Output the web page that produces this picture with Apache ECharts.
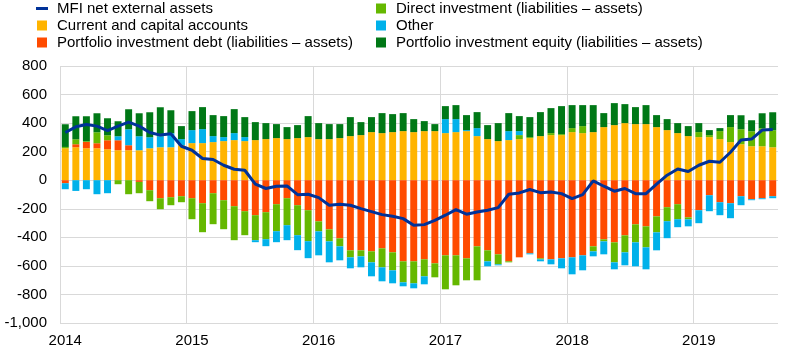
<!DOCTYPE html>
<html>
<head>
<meta charset="utf-8">
<script src="https://cdn.jsdelivr.net/npm/echarts@6/dist/echarts.min.js"></script>
<style>
html,body{margin:0;padding:0;background:#fff;}
#chart{width:794px;height:356px;}
</style>
</head>
<body>
<div id="chart"></div>
<script>
var months = [
 '2014-01','2014-02','2014-03','2014-04','2014-05','2014-06','2014-07','2014-08','2014-09','2014-10','2014-11','2014-12',
 '2015-01','2015-02','2015-03','2015-04','2015-05','2015-06','2015-07','2015-08','2015-09','2015-10','2015-11','2015-12',
 '2016-01','2016-02','2016-03','2016-04','2016-05','2016-06','2016-07','2016-08','2016-09','2016-10','2016-11','2016-12',
 '2017-01','2017-02','2017-03','2017-04','2017-05','2017-06','2017-07','2017-08','2017-09','2017-10','2017-11','2017-12',
 '2018-01','2018-02','2018-03','2018-04','2018-05','2018-06','2018-07','2018-08','2018-09','2018-10','2018-11','2018-12',
 '2019-01','2019-02','2019-03','2019-04','2019-05','2019-06','2019-07','2019-08'
];

var seriesNames = [
 'MFI net external assets',
 'Current and capital accounts',
 'Portfolio investment debt (liabilities \u2013 assets)',
 'Direct investment (liabilities \u2013 assets)',
 'Other',
 'Portfolio investment equity (liabilities \u2013 assets)'
];

var mfiNet = [334,374,390,379,348,379,407,379,334,316,325,238,
 210,152,145,105,77,70,-28,-58,-42,-40,-101,-98,
 -122,-175,-168,-175,-199,-220,-241,-252,-269,-316,-311,-281,
 -245,-206,-238,-222,-210,-192,-98,-89,-65,-87,-82,-94,
 -129,-101,-5,-42,-77,-58,-94,-94,-28,35,79,61,
 105,133,126,196,281,288,351,355];

var currentCapital = [224,231,224,224,217,210,210,210,224,231,231,245,
 260,260,267,274,281,274,281,288,295,288,295,302,
 288,288,295,309,316,337,330,337,344,337,344,344,
 330,337,344,309,288,274,281,288,295,309,316,316,
 337,330,337,372,386,400,393,393,372,351,330,309,
 302,302,288,267,252,238,238,231];

var portfolioDebt = [-21,21,44,35,63,70,35,-12,-70,-126,-119,-112,
 -126,-161,-91,-140,-182,-217,-245,-224,-168,-126,-175,-210,
 -288,-344,-407,-491,-491,-498,-477,-505,-568,-568,-554,-582,
 -526,-526,-547,-463,-491,-519,-568,-540,-512,-547,-554,-547,
 -540,-526,-463,-414,-435,-386,-309,-323,-253,-189,-168,-260,
 -210,-105,-154,-161,-112,-133,-126,-112];

var directInv = [9,35,5,77,35,-28,-98,-79,-77,-77,-56,-42,
 -147,-203,-217,-203,-238,-168,-175,-189,-189,-189,-210,-217,
 -70,-84,-56,-49,-42,-77,-133,-126,-147,-154,-119,-98,
 -238,-210,-154,-238,-77,-70,-7,28,7,-7,14,7,
 28,49,-35,-14,-140,-119,-126,-147,-112,-98,-105,-14,
 35,14,56,105,105,105,126,119];

var otherInv = [-42,-75,-63,-98,-91,28,112,98,77,77,98,43,
 91,98,42,28,49,28,-14,-49,-77,-105,-105,-119,
 -168,-147,-98,-77,-77,-98,-98,-91,-28,-35,-56,0,
 98,91,7,56,-35,-7,63,28,-7,-14,-35,-70,
 -119,-105,-35,-91,-49,-91,-168,-154,-126,-119,-56,-49,
 -91,-112,-91,-105,-63,-7,-7,-14];

var portfolioEquity = [159,161,175,133,119,105,140,161,175,203,161,91,
 133,154,147,147,168,140,126,112,98,84,91,147,
 112,105,98,133,91,105,140,126,126,91,70,49,
 91,98,105,112,98,126,126,105,140,168,175,196,
 161,147,189,98,154,133,119,133,84,77,70,70,
 63,35,21,84,98,77,105,126];

var yTicks = {min: -1000, max: 800, interval: 200};

var colors = ['#003299','#FFB400','#FF4B00','#65B800','#00B1EA','#007816'];
var fontFam = '"Liberation Sans", Arial, sans-serif';
var sq = 'path://M0,0L10,0L10,10L0,10Z';
var dash = 'path://M0,0L12,0L12,3L0,3Z';
var gridCol = '#d9d9d9';

var chart = echarts.init(document.getElementById('chart'), null, {renderer: 'canvas'});

function barSeries(idx, data) {
  return {
    name: seriesNames[idx], type: 'bar', stack: 'total', data: data,
    barWidth: '66%', itemStyle: {color: colors[idx]}, z: 2,
    emphasis: {disabled: true}
  };
}

var legendText = {fontSize: 15, color: '#000', fontFamily: fontFam, lineHeight: 17, padding: [0,0,0,4]};

chart.setOption({
  animation: false,
  textStyle: {fontFamily: fontFam},
  legend: [
    {
      orient: 'vertical', left: 36, top: 0, itemGap: 0, padding: 0,
      itemWidth: 12, itemHeight: 10, textStyle: legendText,
      selectedMode: false,
      data: [
        {name: seriesNames[0], icon: dash},
        {name: seriesNames[1], icon: sq},
        {name: seriesNames[2], icon: sq}
      ]
    },
    {
      orient: 'vertical', left: 376, top: 0, itemGap: 0, padding: 0,
      itemWidth: 12, itemHeight: 10, textStyle: legendText,
      selectedMode: false,
      data: [
        {name: seriesNames[3], icon: sq},
        {name: seriesNames[4], icon: sq},
        {name: seriesNames[5], icon: sq}
      ]
    }
  ],
  grid: {left: 60, right: 16, top: 66, bottom: 33, containLabel: false},
  xAxis: {
    type: 'category', data: months, boundaryGap: true,
    axisLine: {show: false}, axisTick: {show: false},
    axisLabel: {
      interval: function (i) { return i % 12 === 0; },
      formatter: function (v) { return v.slice(0, 4); },
      fontSize: 15, color: '#000', margin: 10, fontFamily: fontFam
    },
    splitLine: {
      show: true,
      interval: function (i) { return i % 12 === 0; },
      lineStyle: {color: [gridCol, gridCol, gridCol, gridCol, gridCol, gridCol, 'rgba(0,0,0,0)'], width: 1}
    }
  },
  yAxis: {
    type: 'value', min: yTicks.min, max: yTicks.max, interval: yTicks.interval,
    axisLine: {show: false}, axisTick: {show: false},
    axisLabel: {
      fontSize: 15, color: '#000', margin: 13, fontFamily: fontFam,
      formatter: function (v) { return v.toLocaleString('en-US'); }
    },
    splitLine: {lineStyle: {color: gridCol, width: 1}}
  },
  series: [
    {
      name: seriesNames[0], type: 'line', data: mfiNet, symbol: 'none',
      lineStyle: {color: colors[0], width: 3}, itemStyle: {color: colors[0]},
      z: 5, emphasis: {disabled: true}
    },
    barSeries(1, currentCapital),
    barSeries(2, portfolioDebt),
    barSeries(3, directInv),
    barSeries(4, otherInv),
    barSeries(5, portfolioEquity)
  ]
});
</script>
</body>
</html>
